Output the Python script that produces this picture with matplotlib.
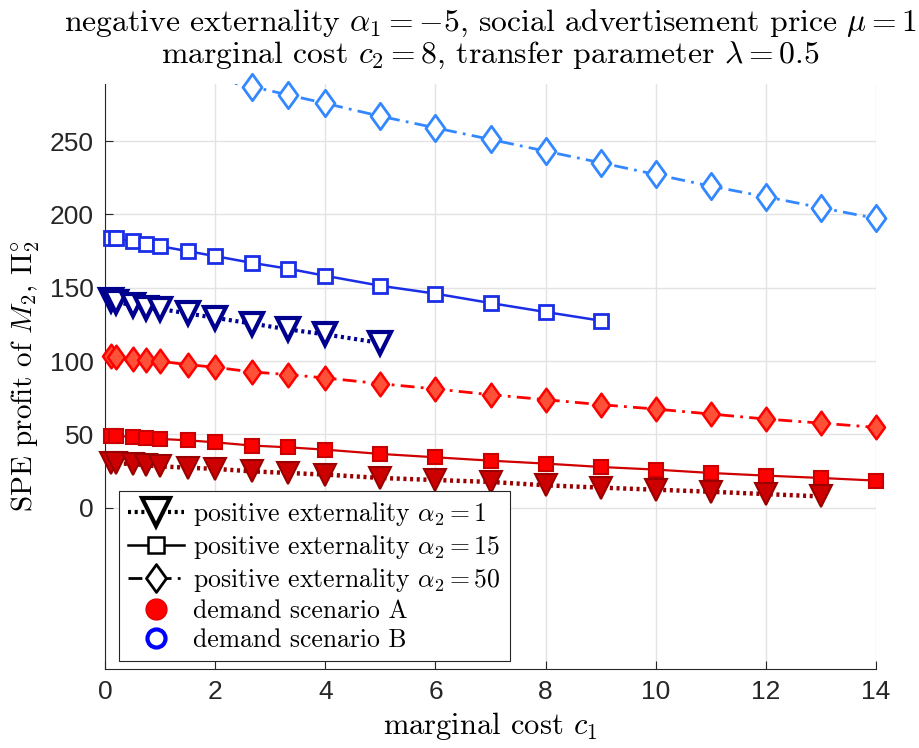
import matplotlib
matplotlib.use('Agg')
import matplotlib.pyplot as plt
from matplotlib.lines import Line2D
from matplotlib.path import Path
import numpy as np

plt.rcParams['font.family'] = 'cmr10'
plt.rcParams['mathtext.fontset'] = 'cm'
plt.rcParams['axes.unicode_minus'] = False
plt.rcParams['lines.scale_dashes'] = False

# marginal cost c1 grid
c1 = [0.1, 0.2, 0.5, 0.75, 1, 1.5, 2, 2.67, 3.33, 4, 5, 6, 7, 8, 9, 10, 11, 12, 13, 14]

# demand scenario A
a_alpha1 = [30.6, 30.2, 29.9, 28.9, 28.2, 27.3, 26.5, 24.8, 23.7, 22.6,
            20.3, 18.9, 17.6, 15.3, 13.7, 12.3, 10.9, 9.3, 7.7]
a_alpha15 = [49.2, 49.0, 48.3, 47.6, 46.9, 46.0, 44.6, 42.4, 41.2, 39.6,
             36.7, 34.4, 32.1, 30.1, 27.8, 26.0, 23.7, 21.9, 20.3, 18.5]
a_alpha50 = [103.3, 102.8, 101.7, 101.0, 99.9, 97.6, 95.8, 92.6, 90.8, 88.5,
             84.6, 81.0, 77.1, 73.7, 70.3, 67.3, 63.9, 60.5, 57.7, 54.8]

# demand scenario B
b_alpha1 = [141.5, 140.5, 138.0, 136.3, 135.6, 132.5, 129.5, 125.6, 121.6, 118.2, 112.4]
b_alpha15 = [184.1, 183.7, 181.8, 180.2, 178.4, 175.0, 171.6, 167.0, 163.0, 158.2,
             151.4, 146.0, 139.6, 133.5, 127.6]
b_alpha50_c1 = [2, 2.67, 3.33, 4, 5, 6, 7, 8, 9, 10, 11, 12, 13, 14]
b_alpha50 = [292.0, 287.2, 281.5, 275.8, 267.0, 259.1, 251.2, 243.2, 235.3, 227.3,
             219.3, 212.1, 204.6, 197.3]

XLIM = (0, 14)
YLIM = (-110, 289)

# narrow diamond like MATLAB's 'd'
diamond = Path([(0, 1), (0.72, 0), (0, -1), (-0.72, 0), (0, 1)],
               [Path.MOVETO, Path.LINETO, Path.LINETO, Path.LINETO, Path.CLOSEPOLY])

dot = (2.2, 2.6)
dashdot = (10, 4.5, 2, 4.5)


def curve(ax, x, y, color, lw, dashes, marker, ms, mfc, mec, mew):
    # line is clipped to the axes, markers are drawn whole when the point is inside
    x = np.asarray(x[:len(y)], dtype=float)
    y = np.asarray(y, dtype=float)
    line, = ax.plot(x, y, color=color, lw=lw)
    if dashes is not None:
        line.set_dashes(dashes)
    inside = (y >= YLIM[0]) & (y <= YLIM[1])
    ax.plot(x[inside], y[inside], ls='none', marker=marker, ms=ms, mfc=mfc,
            mec=mec, mew=mew, clip_on=False, zorder=3)


fig = plt.figure(figsize=(9.19, 7.48), dpi=100)
ax = fig.add_axes([0.1143, 0.1056, 0.839, 0.7821])

# scenario A (filled markers)
curve(ax, c1, a_alpha15, '#d00000', 1.6, None, 's', 10.5, '#ff0000', '#c80000', 1.5)
curve(ax, c1, a_alpha1, '#9a0000', 3.2, dot, 'v', 15.5, '#cc0000', '#990000', 1.5)
curve(ax, c1, a_alpha50, '#ff0000', 2, dashdot, diamond, 17, '#ff5038', '#ff0000', 1.8)

# scenario B (open markers)
curve(ax, c1, b_alpha15, '#1a2ee6', 1.8, None, 's', 10.5, 'white', '#1a2ee6', 2)
curve(ax, c1, b_alpha1, '#00008f', 3, dot, 'v', 15.5, 'white', '#00008f', 3)
curve(ax, b_alpha50_c1, b_alpha50, '#3388ff', 2, dashdot, diamond, 19, 'white', '#3388ff', 2)

ax.set_xlim(*XLIM)
ax.set_ylim(*YLIM)
ax.set_xticks(np.arange(0, 15, 2))
ax.set_yticks(np.arange(0, 251, 50))
for lab in ax.get_xticklabels() + ax.get_yticklabels():
    lab.set_fontfamily('Liberation Sans')
    lab.set_fontsize(19)
    lab.set_color('#262626')
ax.tick_params(direction='in', length=6, width=0.8, color='#262626', pad=8)
ax.grid(True, color='#e3e3e3', lw=1)
ax.set_axisbelow(True)
for side in ['top', 'right']:
    ax.spines[side].set_visible(False)
for side in ['left', 'bottom']:
    ax.spines[side].set_color('#262626')
    ax.spines[side].set_linewidth(0.8)

ax.set_title('negative externality $\\alpha_1 = -5$, social advertisement price $\\mu = 1$\n'
             'marginal cost $c_2 = 8$, transfer parameter $\\lambda = 0.5$',
             fontsize=22.8, pad=15, linespacing=1.05)
ax.set_xlabel('marginal cost $c_1$', fontsize=22, labelpad=4)
ax.set_ylabel('SPE profit of $M_2$, $\\Pi_2^{\\circ}$', fontsize=21, labelpad=6)

handles = [
    Line2D([], [], color='black', lw=3, dashes=dot, marker='v', ms=20,
           mfc='white', mec='black', mew=3),
    Line2D([], [], color='black', lw=1.8, marker='s', ms=11, mfc='white',
           mec='black', mew=1.8),
    Line2D([], [], color='black', lw=2, dashes=dashdot, marker=diamond, ms=20,
           mfc='white', mec='black', mew=2),
    Line2D([], [], ls='none', marker='o', ms=15, mfc='#ff0000', mec='#e00000', mew=1),
    Line2D([], [], ls='none', marker='o', ms=13, mfc='none', mec='#0000ff', mew=3),
]
labels = ['positive externality $\\alpha_2 = 1$',
          'positive externality $\\alpha_2 = 15$',
          'positive externality $\\alpha_2 = 50$',
          'demand scenario A',
          'demand scenario B']
leg = ax.legend(handles, labels, loc='upper left', bbox_to_anchor=(0.018, 0.304),
                borderaxespad=0, fontsize=18.5, handlelength=2.2, handletextpad=0.35,
                labelspacing=0.2, borderpad=0.35, fancybox=False, framealpha=1)
leg.get_frame().set_edgecolor('#262626')
leg.get_frame().set_linewidth(0.8)

fig.savefig('out.png', dpi=100)
